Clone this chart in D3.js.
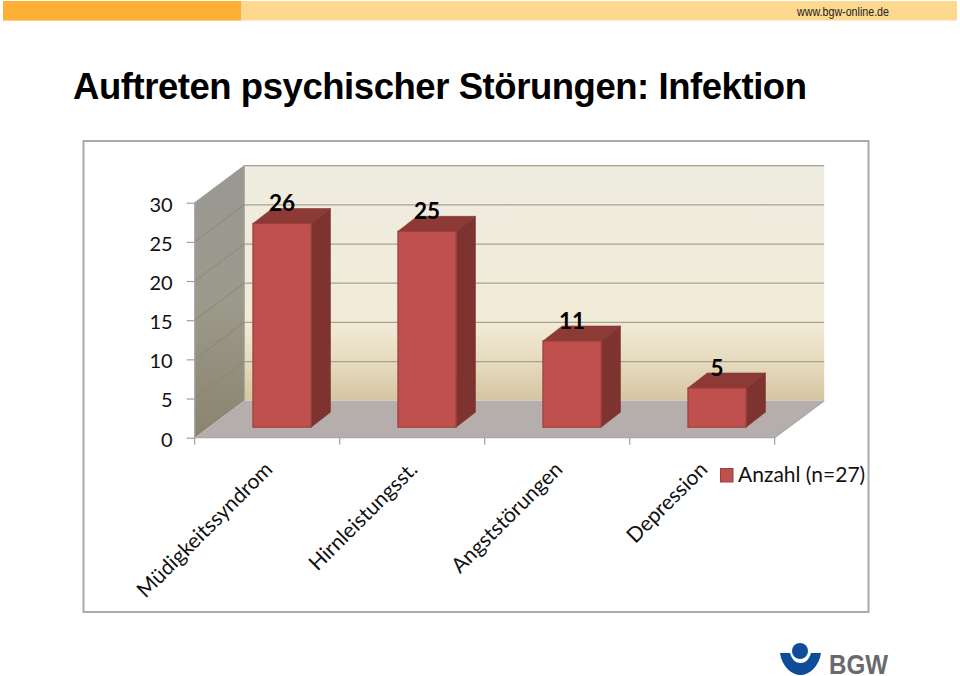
<!DOCTYPE html>
<html><head><meta charset="utf-8">
<script src="https://cdn.jsdelivr.net/npm/d3@7"></script>
<style>html,body{margin:0;padding:0;background:#fff}svg{display:block}</style></head>
<body><svg id="c" width="960" height="676"></svg>
<script>
const categories = ["Müdigkeitssyndrom","Hirnleistungsst.","Angststörungen","Depression"];
const values = [26,25,11,5];
const yTicks = [0,5,10,15,20,25,30];
const seriesName = "Anzahl (n=27)";
const titleText = "Auftreten psychischer Störungen: Infektion";
const siteText = "www.bgw-online.de";

const svg = d3.select("#c");
const defs = svg.append("defs");
function grad(id, stops){
  const g = defs.append("linearGradient").attr("id",id).attr("x1",0).attr("y1",0).attr("x2",0).attr("y2",1);
  stops.forEach(s=>g.append("stop").attr("offset",s[0]).attr("stop-color",s[1]));
}
grad("wall",[[0,"#eeebe0"],[0.3,"#f0ecdd"],[0.66,"#f2ebd7"],[0.72,"#eee6cf"],[0.85,"#e5d9bb"],[1,"#d5c5a1"]]);
grad("side",[[0,"#999893"],[0.5,"#9c9a8c"],[1,"#8a846e"]]);

// header band
svg.append("rect").attr("x",3).attr("y",1).attr("width",954).attr("height",19.5).attr("fill","#fdd88f");
svg.append("rect").attr("x",3).attr("y",1).attr("width",238).attr("height",19.5).attr("fill","#fdb035");
svg.append("text").attr("x",797).attr("y",16)
  .attr("textLength",92).attr("lengthAdjust","spacingAndGlyphs")
  .attr("font-family","Liberation Sans").attr("font-size",13).attr("fill","#222").text(siteText);
svg.append("text").attr("x",73).attr("y",98.5)
  .attr("textLength",734).attr("lengthAdjust","spacing")
  .attr("font-family","Liberation Sans").attr("font-weight","bold").attr("font-size",36.5).attr("fill","#000").text(titleText);

// chart frame
svg.append("rect").attr("x",83.5).attr("y",141).attr("width",785).attr("height",471)
  .attr("fill","#fff").attr("stroke","#aaaaaa").attr("stroke-width",2);

const y = d3.scaleLinear().domain([0,30]).range([437.7,202.7]);
const x = d3.scaleBand().domain(categories).range([194.7,774.7]);
const depthX = 49.5, depthY = 37;   // whole-floor depth
const barW = 58.2;
const nearF = 0.3, farF = 0.69;   // bar position inside the depth

// walls & floor
const x0=x.range()[0], x1=x.range()[1], y0=y(0), yT=y(30);
svg.append("rect").attr("x",x0+depthX).attr("y",yT-depthY).attr("width",x1-x0).attr("height",y0-yT)
  .attr("fill","url(#wall)");
svg.append("path").attr("d",`M${x0},${yT}L${x0+depthX},${yT-depthY}V${y0-depthY}L${x0},${y0}Z`).attr("fill","url(#side)");
svg.append("path").attr("d",`M${x0},${y0}L${x0+depthX},${y0-depthY}H${x1+depthX}L${x1},${y0}Z`).attr("fill","#b5aead");

// gridlines
const gridCol="#a5a291";
svg.append("g").selectAll("line").data(yTicks.slice(1)).join("line")
  .attr("x1",x0+depthX).attr("x2",x1+depthX)
  .attr("y1",d=>y(d)-depthY).attr("y2",d=>y(d)-depthY)
  .attr("stroke",gridCol).attr("stroke-width",1.3);
svg.append("g").selectAll("line").data(yTicks.slice(1,-1)).join("line")
  .attr("x1",x0).attr("x2",x0+depthX)
  .attr("y1",d=>y(d)).attr("y2",d=>y(d)-depthY)
  .attr("stroke","#85836f").attr("stroke-width",0.8);
svg.append("path").attr("d",`M${x0},${yT}L${x0+depthX},${yT-depthY}V${y0-depthY}`).attr("fill","none").attr("stroke","#9a9a8c").attr("stroke-width",1);
svg.append("path").attr("d",`M${x0},${yT}V${y0}H${x1}L${x1+depthX},${y0-depthY}`).attr("fill","none").attr("stroke","#a8a8a8").attr("stroke-width",1.3);

// axes
const axL = svg.append("g").attr("transform",`translate(${x0},0)`)
  .call(d3.axisLeft(y).tickValues(yTicks).tickSize(8).tickPadding(14));
axL.select(".domain").remove();
axL.selectAll("line").attr("stroke","#a0a0a0").attr("stroke-width",1.2);
axL.selectAll("text").attr("font-family","Lato").attr("font-size",20).attr("fill","#111").attr("dy","0.42em");

const axisTicks = categories.map((c,i)=>x(c)).concat([x1]);
svg.append("g").selectAll("line").data(axisTicks).join("line")
  .attr("x1",d=>d).attr("x2",d=>d).attr("y1",y0).attr("y2",y0+7)
  .attr("stroke","#a0a0a0").attr("stroke-width",1.2);

svg.append("g").selectAll("text").data(categories).join("text")
  .attr("text-anchor","end")
  .attr("transform",c=>`translate(${x(c)+x.bandwidth()-66},${y0+33}) rotate(-45)`)
  .attr("font-family","Lato").attr("font-size",21).attr("fill","#111").text(c=>c);

// bars
const nearDX=depthX*nearF, nearDY=depthY*0.285, dDX=depthX*(farF-nearF), dDY=depthY*0.405;
const barX = c=>x(c)+x.bandwidth()/2-barW/2+nearDX;
const g = svg.append("g").selectAll("g").data(categories).join("g");
const baseY = y0-nearDY;
const topY = (i)=>y(values[i])-nearDY;
g.append("path").attr("fill","#7e3330").attr("stroke","#7a3532").attr("stroke-width",.6)
  .attr("d",(c,i)=>`M${barX(c)+barW},${topY(i)}l${dDX},${-dDY}V${baseY-dDY}L${barX(c)+barW},${baseY}Z`);
g.append("path").attr("fill","#8d3a37").attr("stroke","#843734").attr("stroke-width",.6)
  .attr("d",(c,i)=>`M${barX(c)},${topY(i)}l${dDX},${-dDY}h${barW}l${-dDX},${dDY}Z`);
g.append("rect").attr("fill","#c0504d").attr("stroke","#9b3f3c").attr("stroke-width",1.2)
  .attr("x",c=>barX(c)).attr("width",barW)
  .attr("y",(c,i)=>topY(i)).attr("height",(c,i)=>baseY-topY(i));
g.append("text").attr("text-anchor","middle").attr("x",c=>barX(c)+barW/2)
  .attr("y",(c,i)=>topY(i)-12)
  .attr("font-family","Lato").attr("font-weight","bold").attr("font-size",22.5).attr("fill","#000")
  .text((c,i)=>values[i]);

// legend
svg.append("rect").attr("x",720.5).attr("y",468.5).attr("width",12.5).attr("height",13.5)
  .attr("fill","#c0504d").attr("stroke","#9b3f3c");
svg.append("text").attr("x",738).attr("y",482).attr("font-family","Lato").attr("font-size",21).attr("fill","#111").text(seriesName);

// logo
const logo = svg.append("g");
logo.append("circle").attr("cx",800).attr("cy",651).attr("r",8).attr("fill","#0f4c9a");
logo.append("path").attr("fill","#0f4c9a")
  .attr("d","M780,653 L790,653 C792,660 796,663 800.5,663 C805,663 809,660 811,653 L821,653 C819,667 809,675 800.5,675 C792,675 782,667 780,653Z");
logo.append("text").attr("x",829).attr("y",673.5).attr("font-family","Liberation Sans").attr("font-weight","bold")
  .attr("font-size",28).attr("textLength",59).attr("lengthAdjust","spacingAndGlyphs").attr("fill","#6a6a6d").text("BGW");
</script></body></html>
